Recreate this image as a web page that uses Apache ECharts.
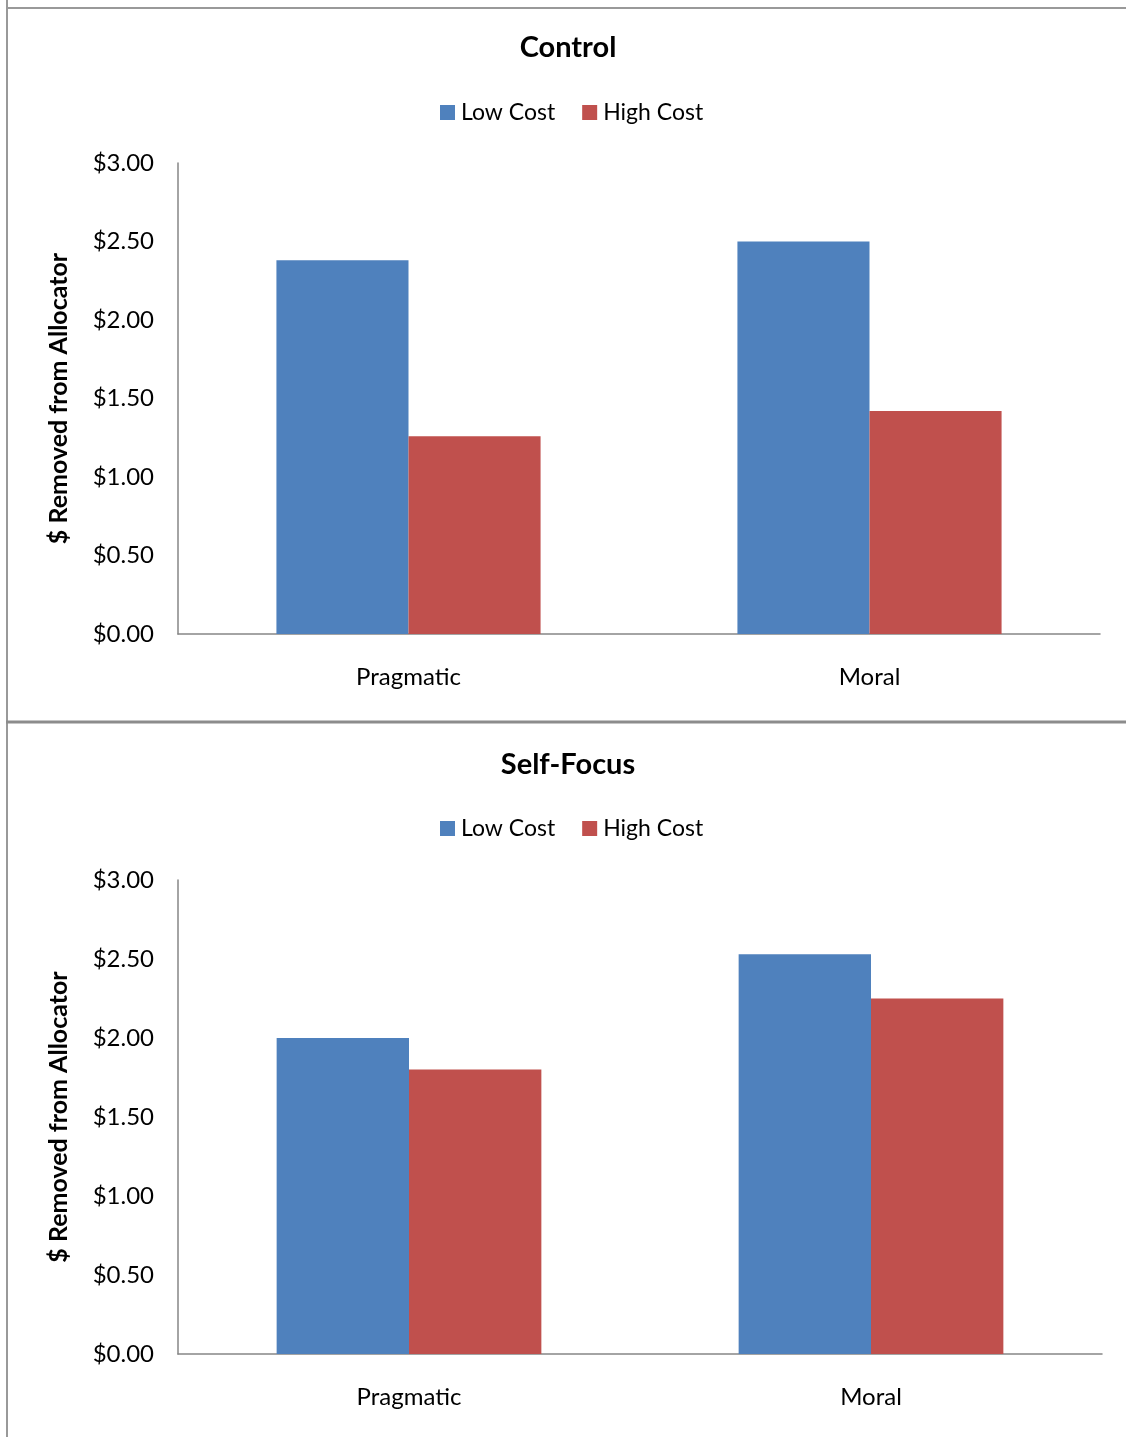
<!DOCTYPE html>
<html><head><meta charset="utf-8">
<style>html,body{margin:0;padding:0;background:#fff}#c{width:1126px;height:1437px}</style>
<script src="https://cdn.jsdelivr.net/npm/echarts@6/dist/echarts.min.js"></script>
</head><body><div id="c"></div>
<script>
const categories = ['Pragmatic', 'Moral'];
const panelTitles = ['Control', 'Self-Focus'];
const seriesNames = ['Low Cost', 'High Cost'];
const controlLow = [2.38, 2.50];
const controlHigh = [1.26, 1.42];
const selfLow = [2.00, 2.53];
const selfHigh = [1.80, 2.25];
const yTicks = [0, 0.5, 1.0, 1.5, 2.0, 2.5, 3.0];
const yName = '$ Removed from Allocator';

const FONT = 'Lato, "Open Sans", sans-serif';
const colors = ['#4f81bd', '#c0504d'];
const chart = echarts.init(document.getElementById('c'));

const grids = [
  {left: 178, top: 163, width: 922, height: 471},
  {left: 178, top: 880, width: 924, height: 474}
];
function xAxis(i){return {type:'category', gridIndex:i, data:categories,
  axisLine:{lineStyle:{color:'#868686', width:1.5}}, axisTick:{show:false},
  axisLabel:{color:'#000', fontSize:24, fontFamily:FONT, margin:31}};}
function yAxis(i){return {type:'value', gridIndex:i, min:yTicks[0], max:yTicks[yTicks.length-1], interval:yTicks[1]-yTicks[0],
  name:yName, nameLocation:'middle', nameGap:107, nameRotate:90,
  nameTextStyle:{color:'#000', fontSize:25, fontWeight:'bold', fontFamily:FONT},
  axisLine:{show:true, lineStyle:{color:'#868686', width:1.5}}, axisTick:{show:false}, splitLine:{show:false},
  axisLabel:{color:'#000', fontSize:24, fontFamily:FONT, margin:24,
    formatter:v=>'$'+v.toFixed(2)}};}
function bar(name, data, i, c){return {type:'bar', name, data, xAxisIndex:i, yAxisIndex:i,
  barGap:'0%', barCategoryGap:'42.7%', itemStyle:{color:c}};}

const legendBase = {data:seriesNames, left:435, itemWidth:15, itemHeight:15, itemGap:27, icon:'rect',
  textStyle:{fontSize:23, fontFamily:FONT, color:'#000', padding:[0,0,0,1]}};
chart.setOption({
  animation:false,
  title:[
    {text:panelTitles[0], left:563, top:28, textAlign:'center', textStyle:{fontSize:29, fontWeight:'bold', fontFamily:FONT, color:'#000'}},
    {text:panelTitles[1], left:563, top:745, textAlign:'center', textStyle:{fontSize:29, fontWeight:'bold', fontFamily:FONT, color:'#000'}}
  ],
  legend:[
    Object.assign({}, legendBase, {top:96}),
    Object.assign({}, legendBase, {top:812})
  ],
  grid:grids,
  xAxis:[xAxis(0), xAxis(1)],
  yAxis:[yAxis(0), yAxis(1)],
  series:[
    bar(seriesNames[0], controlLow, 0, colors[0]),
    bar(seriesNames[1], controlHigh, 0, colors[1]),
    bar(seriesNames[0], selfLow, 1, colors[0]),
    bar(seriesNames[1], selfHigh, 1, colors[1])
  ],
  graphic:[
    {type:'line', shape:{x1:7, y1:0, x2:7, y2:1437}, style:{stroke:'#999', lineWidth:2}},
    {type:'line', shape:{x1:6, y1:8, x2:1126, y2:8}, style:{stroke:'#999', lineWidth:2}},
    {type:'line', shape:{x1:6, y1:722, x2:1126, y2:722}, style:{stroke:'#8c8c8c', lineWidth:3}}
  ]
});
</script></body></html>
